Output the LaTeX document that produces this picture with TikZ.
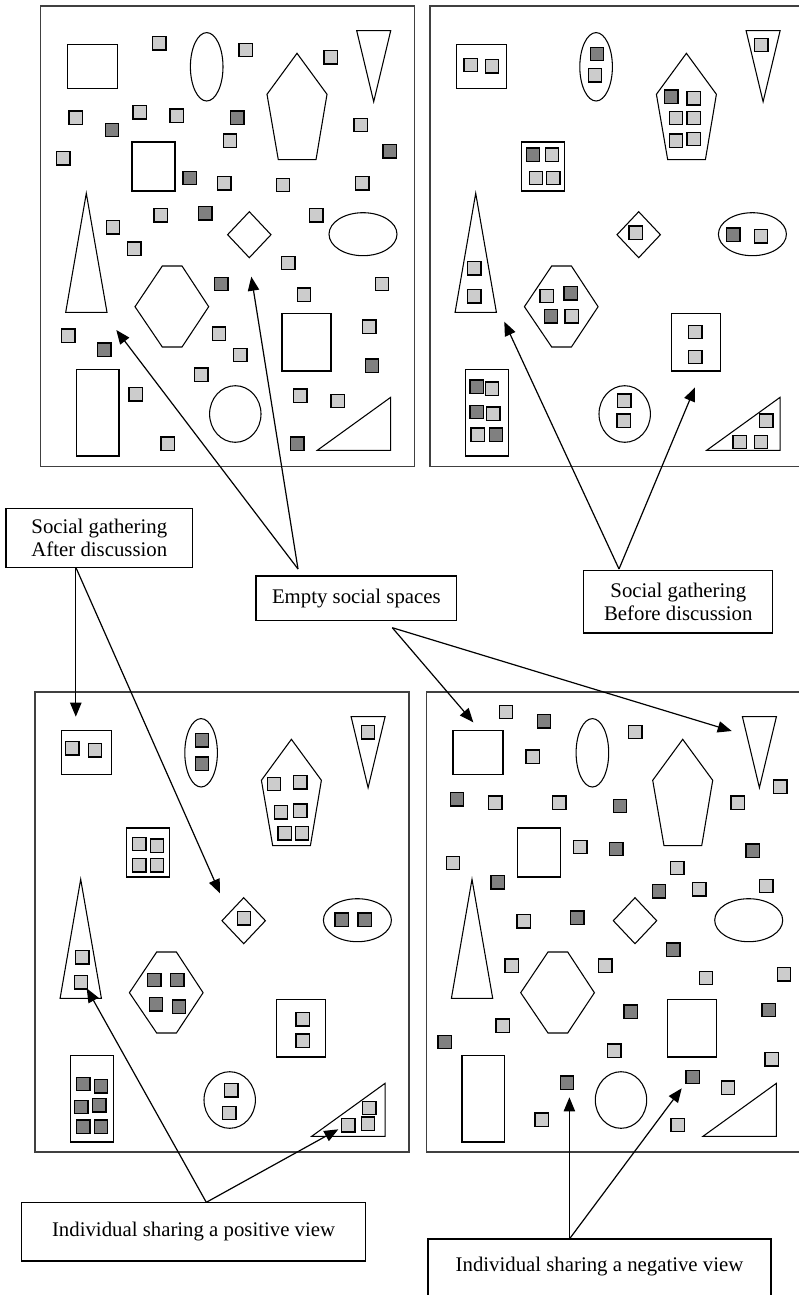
\documentclass[tikz,border=0pt]{standalone}
\usepackage{fontspec}
\setmainfont{Liberation Serif}
\usetikzlibrary{arrows.meta}
\tikzset{
  shp/.style={draw=black,line width=0.8pt,fill=none},
  frame/.style={draw=black!75,line width=0.8pt},
  lsq/.style={draw=black,line width=1pt,fill=black!20},
  dsq/.style={draw=black,line width=1pt,fill=black!50},
  tbox/.style={draw=black,line width=1pt,inner sep=0pt,align=center,font=\fontsize{15.6}{17.3}\selectfont},
  conn/.style={draw=black,line width=0.9pt},
  arr/.style={conn,-{Triangle[length=10.5pt,width=8.5pt]}}
}
\newcommand{\panelshapes}{%
  \draw[shp] (67.3,44.3) rectangle (117.3,88.3);
  \draw[shp] (206.7,66.8) ellipse [x radius=16.3, y radius=34.2];
  \draw[shp] (356.7,30.7) -- (390.7,30.7) -- (373.7,101.7) -- cycle;
  \draw[shp] (297,53.3) -- (327,94.3) -- (316,159.7) -- (278.3,159.7) -- (267,94.3) -- cycle;
  \draw[shp] (132,142) rectangle (175,191);
  \draw[shp] (86.3,193.3) -- (107,312.3) -- (65.7,312.3) -- cycle;
  \draw[shp] (249.3,211.7) -- (271,234.7) -- (249.3,257.7) -- (227.6,234.7) -- cycle;
  \draw[shp] (363,234.2) ellipse [x radius=34, y radius=21.5];
  \draw[shp] (162.3,266) -- (182,266) -- (208.7,306.7) -- (182,347) -- (162.3,347) -- (135,306.7) -- cycle;
  \draw[shp] (282,313.3) rectangle (331,371);
  \draw[shp] (76.3,369.3) rectangle (119,456);
  \draw[shp] (235.3,414) ellipse [x radius=25.7, y radius=28.3];
  \draw[shp] (317.3,450.3) -- (390.7,450.3) -- (390.7,397.3) -- cycle;
}
\begin{document}
\begin{tikzpicture}[x=0.75pt,y=-0.75pt]
\useasboundingbox (0,0) rectangle (799,1295);
% panel frames
\draw[frame] (40.7,6) rectangle (414.7,466.7);
\draw[frame] (799,6) -- (430,6) -- (430,466.7) -- (799,466.7);
\draw[frame] (35,692) rectangle (409,1152);
\draw[frame] (799,692) -- (426.4,692) -- (426.4,1152) -- (799,1152);
% panel shapes
\begin{scope}\panelshapes\end{scope}
\begin{scope}[shift={(389.4,0)}]\panelshapes\end{scope}
\begin{scope}[shift={(-5.6,686)}]\panelshapes\end{scope}
\begin{scope}[shift={(385.7,686)}]\panelshapes\end{scope}
% light squares
\foreach \x/\y in {159.3/43.3,245.7/50,330.7/57.3,75.7/117.7,139.7/112.3,176.7/115.7,230/140.7,360.7/125,63.3/158.3,224.3/183.3,283/185,362.3/183.3,160.7/215.3,316.3/215.3,113/227.3,134.3/248.7,288.3/263,382/284,304/294.7,68.3/335.7,219/333.7,240.3/355,369.3/326.7,201.3/374.7,135.7/394.3,300.3/395.7,337.7/401,167.7/443.7,
470.7/65,492/66.3,595/75.3,761.3/45,693.7/98.3,676/118,693.7/118,676/140.7,693.7/139,552/154.7,536/178,553.3/178,474.3/268.3,474.3/296.3,635.7/232.7,761/236.3,546.7/296,571.7/316.3,695.3/332,695.3/357,492/388.7,493.3/413.7,477.7/434.7,624.3/400.7,623.7/420.7,766.3/420.7,739.7/442,761/442,
72.3/748.3,95/750.3,368/732.3,274/784,300.3/782.3,281/812.3,300.3/810.7,284.7/833.3,302/833.3,139.3/844,157/845.7,139.3/865.3,157/865.3,244/918.3,82.3/957.3,81/982.3,302.7/1019.3,302.7/1040.7,231.3/1090.3,229.3/1113,369.3/1108,348.3/1125.3,368/1123.7,
506/712,635.3/732,532.7/756.7,495.3/802.7,559.3/802.7,737.7/802.7,780.3/786.7,580.3/847,453/863,677.3/868,699.3/889.3,766.3/886,523.7/921.3,511.7/965.7,605.3/965.7,706/978,784/974.3,502.7/1025.7,614.3/1050.7,771.7/1059.3,728/1087.7,541.7/1119.7,677.7/1125}
  \draw[lsq,shift={(\x,\y)}] (-6.6,-6.6) rectangle (6.6,6.6);
% dark squares
\foreach \x/\y in {112/130,237.3/117.7,389.7/151.3,189.7/178,205.3/213.3,221.3/284,104.3/349.7,372/365.7,297.3/443.7,
597/54,671.3/96.7,533/154.7,733.3/234.7,570.7/293.3,551/316.3,476.7/386.7,476.7/412,496/434.7,
202/740.3,202/763.7,341.7/919.7,364.7/919.7,154.3/980,177.3/980,156/1004.3,179/1006.7,83.3/1084,101/1086.3,81.3/1107,99.3/1105.3,83.3/1126.7,101/1126.7,
544/721.3,457/799.3,620/806,616.3/849,752.7/850.7,497.7/882.3,659/891.3,577.3/917.7,673.3/949.7,630.7/1011.7,768.7/1010,444.7/1042,567/1082.7,692.7/1077}
  \draw[dsq,shift={(\x,\y)}] (-6.6,-6.6) rectangle (6.6,6.6);
% label boxes
\node[tbox,minimum width=139.9pt,minimum height=44.25pt] (after) at (99.35,537.8) {Social gathering\\After discussion};
\node[tbox,minimum width=150.5pt,minimum height=33.5pt] (empty) at (356.35,598.35) {Empty social spaces};
\node[tbox,minimum width=141.75pt,minimum height=46.7pt] (before) at (678.3,601.85) {Social gathering\\Before discussion};
\node[tbox,minimum width=258.3pt,minimum height=44pt] (positive) at (193.6,1231.65) {Individual sharing a positive view};
\draw[line width=1pt] (428,1295) -- (428,1239) -- (771,1239) -- (771,1295);
\node[font=\fontsize{15.6}{17.3}\selectfont,inner sep=0pt] (negative) at (599.5,1266.5) {Individual sharing a negative view};
% connector coordinates
\coordinate (eTop) at (298,569);
\coordinate (eBot) at (392.3,627.7);
\coordinate (bTop) at (619,569);
\coordinate (aBot) at (75.8,567.3);
\coordinate (pTop) at (206.3,1202.3);
\coordinate (nTop) at (569.4,1239);
\coordinate (t1) at (116.3,330);
\coordinate (t2) at (251.3,276.7);
\coordinate (t3) at (504.3,321.7);
\coordinate (t4) at (695,387.3);
\coordinate (t5) at (75.8,716.7);
\coordinate (t6) at (220,893.3);
\coordinate (t7) at (473.3,722.3);
\coordinate (t8) at (731.7,731);
\coordinate (t9) at (86.7,988.3);
\coordinate (t10) at (338.3,1129.3);
\coordinate (t11) at (569.4,1097.3);
\coordinate (t12) at (681.7,1088.3);
% connectors
\draw[arr] (eTop) -- (t1);
\draw[arr] (eTop) -- (t2);
\draw[arr] (bTop) -- (t3);
\draw[arr] (bTop) -- (t4);
\draw[arr] (aBot) -- (t5);
\draw[arr] (aBot) -- (t6);
\draw[arr] (eBot) -- (t7);
\draw[arr] (eBot) -- (t8);
\draw[arr] (pTop) -- (t9);
\draw[arr] (pTop) -- (t10);
\draw[arr] (nTop) -- (t11);
\draw[arr] (nTop) -- (t12);
\end{tikzpicture}
\end{document}
